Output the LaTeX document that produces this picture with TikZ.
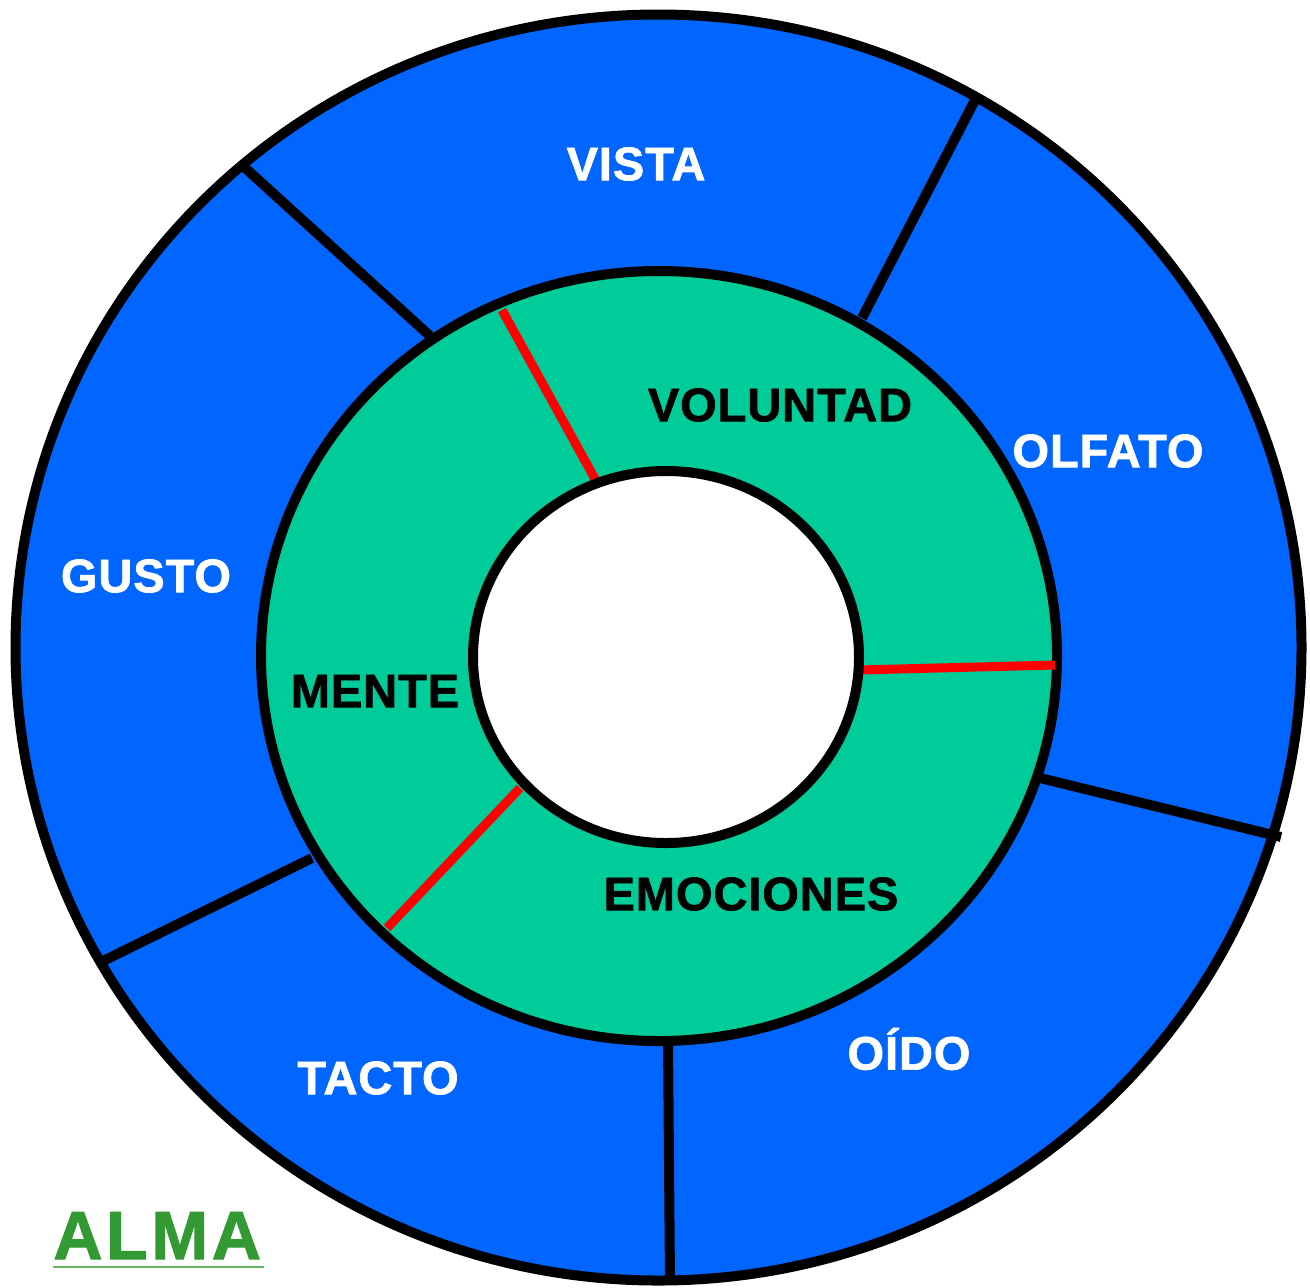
\documentclass[tikz,border=0pt]{standalone}
\usepackage{fontspec}
\setmainfont{Liberation Sans}
\newfontfamily\heavyfont[FakeBold=1.5,LetterSpace=2]{Liberation Sans Bold}
\newfontfamily\almafont[FakeBold=1.5,LetterSpace=5.5]{Liberation Sans Bold}
\definecolor{ringblue}{RGB}{0,102,255}
\definecolor{ringgreen}{RGB}{0,204,153}
\definecolor{almagreen}{RGB}{51,153,51}
\begin{document}
\begin{tikzpicture}[x=0.5pt,y=-0.5pt,
  ring/.style={draw=black,line width=5pt},
  divider/.style={draw=black,line width=5pt},
  redline/.style={draw=red,line width=4.5pt},
  sense/.style={text=white,font=\fontsize{23.5}{28}\heavyfont,inner sep=0pt},
  part/.style={text=black,font=\fontsize{23.5}{28}\heavyfont,inner sep=0pt}]
\useasboundingbox (0,0) rectangle (1310,1287);
% outer ring
\path[ring,fill=ringblue] (658.5,647.5) ellipse [x radius=321.5pt,y radius=316.5pt];
% divider coordinates
\coordinate (d1o) at (243,166);  \coordinate (d1i) at (430,336);
\coordinate (d2o) at (975,100);  \coordinate (d2i) at (862,318);
\coordinate (d3o) at (1281,837); \coordinate (d3i) at (1040,778);
\coordinate (d4o) at (670,1284); \coordinate (d4i) at (668,1040);
\coordinate (d5o) at (101,962);  \coordinate (d5i) at (312,858);
\draw[divider] (d1o) -- (d1i);
\draw[divider] (d2o) -- (d2i);
\draw[divider] (d3o) -- (d3i);
\draw[divider] (d4o) -- (d4i);
\draw[divider] (d5o) -- (d5i);
% green ring
\path[ring,fill=ringgreen] (659,656) ellipse [x radius=199pt,y radius=192.5pt];
% red lines
\coordinate (r1o) at (502,310);  \coordinate (r1i) at (600,488);
\coordinate (r2o) at (1055,665); \coordinate (r2i) at (858,670);
\coordinate (r3o) at (387,928);  \coordinate (r3i) at (520,788);
\draw[redline] (r1o) -- (r1i);
\draw[redline] (r2o) -- (r2i);
\draw[redline] (r3o) -- (r3i);
% inner white circle
\path[ring,fill=white] (666,657) ellipse [x radius=96.5pt,y radius=93pt];
% labels
\node[sense] (vista) at (636,164) {VISTA};
\node[sense] (olfato) at (1108,451) {OLFATO};
\node[sense] (gusto) at (146,576) {GUSTO};
\node[sense] (tacto) at (378,1078) {TACTO};
\node[sense] (oido) at (909,1049) {OÍDO};
\node[part] (voluntad) at (780,405) {VOLUNTAD};
\node[part] (mente) at (375,691) {MENTE};
\node[part] (emociones) at (751,894) {EMOCIONES};
\node[text=almagreen,font=\fontsize{34}{40}\almafont,inner sep=0pt,anchor=base west] (alma) at (53,1259) {ALMA};
\draw[almagreen!75!white,line width=0.7pt] (53,1267) -- (264,1267);
\end{tikzpicture}
\end{document}
